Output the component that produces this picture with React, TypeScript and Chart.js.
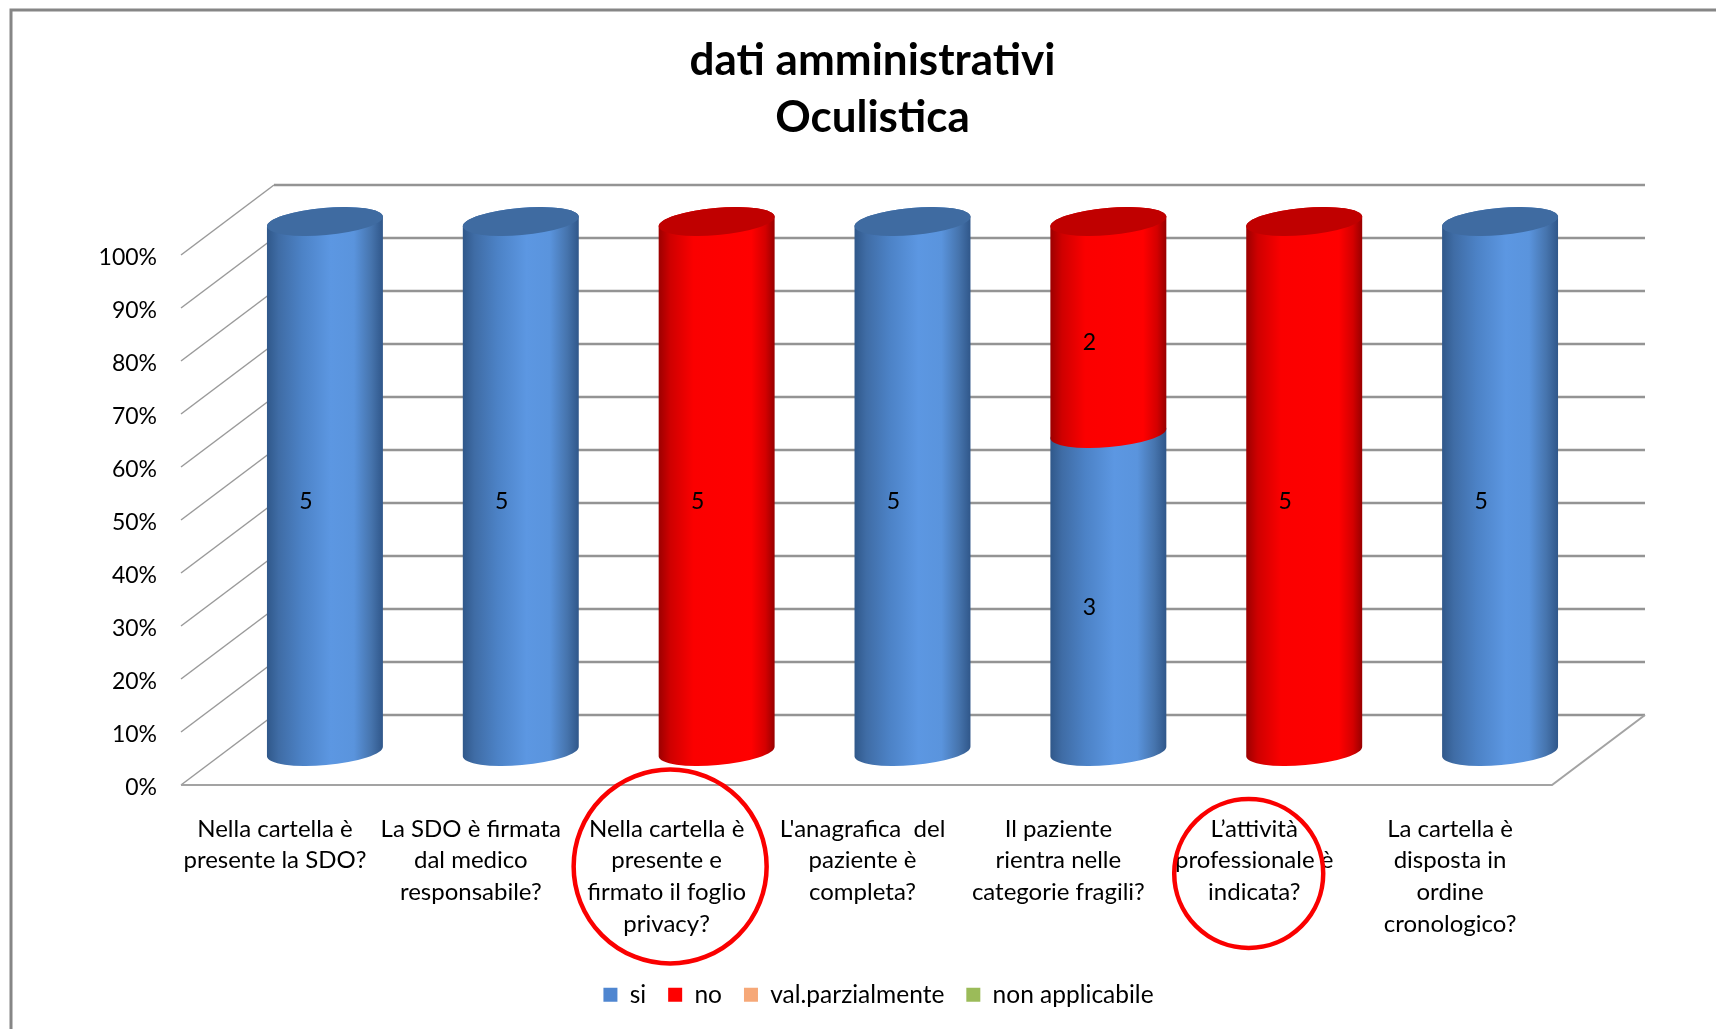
import React, { useEffect, useRef } from "react";
import { Chart, registerables } from "chart.js";

Chart.register(...registerables);

const FONT = "Lato";
const categories = [
  ["Nella cartella è", "presente la SDO?"],
  ["La SDO è firmata", "dal medico", "responsabile?"],
  ["Nella cartella è", "presente e", "firmato il foglio", "privacy?"],
  ["L'anagrafica  del", "paziente è", "completa?"],
  ["Il paziente", "rientra nelle", "categorie fragili?"],
  ["L’attività", "professionale è", "indicata?"],
  ["La cartella è", "disposta in", "ordine", "cronologico?"],
];
const si = [5, 5, 0, 5, 3, 0, 5];
const no = [0, 0, 5, 0, 2, 5, 0];
const parziale = [0, 0, 0, 0, 0, 0, 0];
const nonApplicabile = [0, 0, 0, 0, 0, 0, 0];
const yTicks = [0, 10, 20, 30, 40, 50, 60, 70, 80, 90, 100];
const totals = si.map((v, i) => v + no[i] + parziale[i] + nonApplicabile[i]);
const pct = (arr: number[]) => arr.map((v, i) => (v / totals[i]) * 100);

const DEPTH_X = 93;
const DEPTH_Y = -70;
const BAR_DX = 46;
const BAR_DY = -33.5;
const LABEL_DX = 27;
const LABEL_DY = -18.5;
const TILT = 0.087;
const RY = 13.6;

const ramps: Record<string, [number, string][]> = {
  si: [[0, "#30588a"], [0.1, "#3f6ca5"], [0.3, "#4c82c6"], [0.55, "#5c97e2"], [0.75, "#5a94dd"], [0.9, "#4674ad"], [1, "#30578a"]],
  no: [[0, "#9c0000"], [0.1, "#cf0000"], [0.3, "#fb0000"], [0.8, "#ff0000"], [0.92, "#d40000"], [1, "#980000"]],
};
const caps: Record<string, string> = { si: "#3f6ba1", no: "#c00000" };

const plugin3d = {
  id: "plugin3d",
  afterUpdate(chart: any) {
    const lg = chart.legend;
    if (lg) {
      lg.left += 12;
      lg.right += 12;
      lg.top -= 12;
      lg.bottom -= 12;
    }
    const tb = chart.titleBlock;
    if (tb) {
      tb.left += 6;
      tb.right += 6;
    }
  },
  beforeDraw(chart: any) {
    const { ctx, width, height, chartArea: a, scales } = chart;
    ctx.save();
    ctx.fillStyle = "#fff";
    ctx.fillRect(0, 0, width, height);
    ctx.strokeStyle = "#868686";
    ctx.lineWidth = 3;
    ctx.beginPath();
    ctx.moveTo(11, height);
    ctx.lineTo(11, 10);
    ctx.lineTo(width, 10);
    ctx.stroke();
    for (const t of yTicks) {
      const y = scales.y.getPixelForValue(t);
      ctx.strokeStyle = "#9a9a9a";
      ctx.lineWidth = 1.5;
      ctx.beginPath();
      ctx.moveTo(a.left, y);
      ctx.lineTo(a.left + DEPTH_X, y + DEPTH_Y);
      ctx.stroke();
      ctx.strokeStyle = "#949494";
      ctx.lineWidth = 2.5;
      ctx.beginPath();
      ctx.moveTo(a.left + DEPTH_X, y + DEPTH_Y);
      ctx.lineTo(a.right + DEPTH_X, y + DEPTH_Y);
      ctx.stroke();
    }
    const y0 = scales.y.getPixelForValue(0);
    ctx.strokeStyle = "#a3a3a3";
    ctx.lineWidth = 2;
    ctx.beginPath();
    ctx.moveTo(a.left, y0);
    ctx.lineTo(a.right, y0);
    ctx.lineTo(a.right + DEPTH_X, y0 + DEPTH_Y);
    ctx.stroke();
    ctx.restore();
  },
  beforeDatasetsDraw(chart: any) {
    const { ctx } = chart;
    const n = chart.data.datasets.length;
    const rx = (w: number) => w / 2 / Math.cos(TILT);
    ctx.save();
    for (let d = 0; d < n; d++) {
      const key = chart.data.datasets[d].key;
      const meta = chart.getDatasetMeta(d);
      meta.data.forEach((el: any, i: number) => {
        const raw = chart.data.datasets[d].data[i];
        if (!raw) return;
        const cx = el.x + BAR_DX;
        const top = el.y + BAR_DY;
        const base = el.base + BAR_DY;
        const r = rx(el.width);
        const g = ctx.createLinearGradient(cx - el.width / 2, 0, cx + el.width / 2, 0);
        ramps[key].forEach(([s, c]) => g.addColorStop(s, c));
        ctx.fillStyle = g;
        ctx.beginPath();
        ctx.ellipse(cx, top, r, RY, -TILT, Math.PI, 2 * Math.PI);
        ctx.ellipse(cx, base, r, RY, -TILT, 0, Math.PI);
        ctx.closePath();
        ctx.fill();
        const isTop = Math.abs(el.y - chart.scales.y.getPixelForValue(100)) < 0.5;
        if (isTop) {
          ctx.fillStyle = caps[key];
          ctx.beginPath();
          ctx.ellipse(cx, top, r, RY, -TILT, 0, 2 * Math.PI);
          ctx.fill();
        }
      });
    }
    ctx.fillStyle = "#000";
    ctx.font = `23px ${FONT}`;
    ctx.textAlign = "center";
    ctx.textBaseline = "middle";
    [si, no, parziale, nonApplicabile].forEach((arr, d) => {
      chart.getDatasetMeta(d).data.forEach((el: any, i: number) => {
        if (!arr[i]) return;
        ctx.fillText(String(arr[i]), el.x + LABEL_DX, (el.y + el.base) / 2 + LABEL_DY);
      });
    });
    ctx.restore();
  },
  beforeDatasetDraw() {
    return false;
  },
  afterDraw(chart: any) {
    const { ctx, scales, chartArea: a } = chart;
    ctx.save();
    ctx.strokeStyle = "#fa0000";
    ctx.lineWidth = 4.5;
    ctx.beginPath();
    ctx.ellipse(scales.x.getPixelForValue(2) - 0.5, a.bottom + 81.5, 96.5, 97, 0, 0, 2 * Math.PI);
    ctx.stroke();
    ctx.beginPath();
    ctx.ellipse(scales.x.getPixelForValue(5) - 9.5, a.bottom + 88.5, 74.5, 74.5, 0, 0, 2 * Math.PI);
    ctx.stroke();
    ctx.restore();
  },
};

export default function App() {
  const ref = useRef<HTMLCanvasElement>(null);
  useEffect(() => {
    document.body.style.margin = "0";
    const chart = new Chart(ref.current as HTMLCanvasElement, {
      type: "bar",
      plugins: [plugin3d],
      data: {
        labels: categories,
        datasets: [
          { key: "si", label: "si", data: pct(si), backgroundColor: "#4f86d0" },
          { key: "no", label: "no", data: pct(no), backgroundColor: "#ff0000" },
          { key: "parz", label: "val.parzialmente", data: pct(parziale), backgroundColor: "#f6a878" },
          { key: "na", label: "non applicabile", data: pct(nonApplicabile), backgroundColor: "#9bbb59" },
        ] as any,
      },
      options: {
        responsive: false,
        animation: false,
        events: [],
        layout: { autoPadding: false, padding: { left: 0, right: 164, top: 0, bottom: 0 } },
        datasets: { bar: { categoryPercentage: 1, barPercentage: 0.592 } },
        scales: {
          x: {
            stacked: true,
            grid: { display: false, drawTicks: false },
            border: { display: false },
            afterFit: (s: any) => { s.height = 187.5; },
            ticks: {
              autoSkip: false,
              maxRotation: 0,
              minRotation: 0,
              padding: 28,
              labelOffset: -4,
              color: "#000",
              font: { family: FONT, size: 24, lineHeight: 31.7 / 24 },
            },
          },
          y: {
            stacked: true,
            min: 0,
            max: 100,
            grid: { display: false, drawTicks: false },
            border: { display: false },
            afterFit: (s: any) => { s.width = 181; },
            ticks: {
              stepSize: 10,
              padding: 24,
              labelOffset: 3,
              color: "#000",
              callback: (v: any) => `${v}%`,
              font: { family: FONT, size: 23 },
            },
          },
        },
        plugins: {
          title: {
            display: true,
            fullSize: false,
            text: ["dati amministrativi", "Oculistica"],
            color: "#000",
            font: { family: FONT, size: 44, weight: "bold", lineHeight: 57 / 44 },
            padding: { top: 32, bottom: 109 },
          },
          legend: {
            display: true,
            position: "bottom",
            fullSize: false,
            labels: {
              boxWidth: 14,
              boxHeight: 14,
              padding: 22,
              color: "#000",
              font: { family: FONT, size: 24.5 },
            },
          },
          tooltip: { enabled: false },
        },
      } as any,
    });
    return () => chart.destroy();
  }, []);
  return <canvas ref={ref} width={1716} height={1029} style={{ display: "block" }} />;
}
